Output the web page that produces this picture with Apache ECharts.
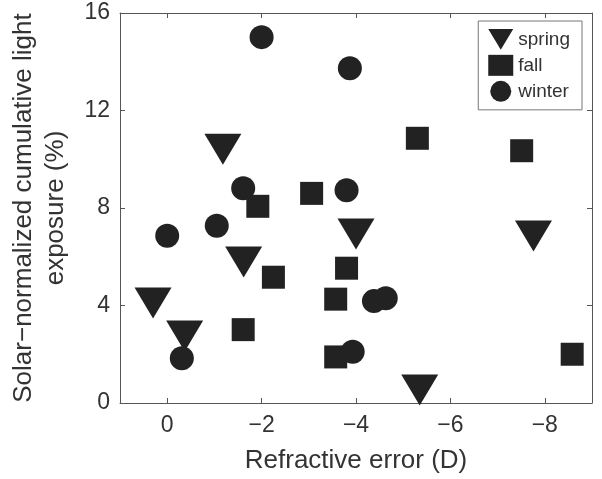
<!DOCTYPE html>
<html>
<head>
<meta charset="UTF-8">
<script src="https://cdn.jsdelivr.net/npm/echarts@6/dist/echarts.min.js"></script>
<style>
  body { margin: 0; background: #fff; }
  #chart { width: 602px; height: 479px; }
</style>
</head>
<body>
<div id="chart"></div>
<script>
  // refractive error (D), light exposure (%)
  const springX = [0.3, -0.37, -1.62, -1.18, -4.0, -7.76, -5.35];
  const springY = [4.1, 2.75, 5.78, 10.41, 6.93, 6.85, 0.53];
  const fallX = [-1.92, -3.06, -5.3, -7.51, -2.25, -1.61, -3.8, -3.57, -3.57, -8.58];
  const fallY = [8.07, 8.6, 10.86, 10.35, 5.16, 3.01, 5.53, 4.26, 1.89, 2.0];
  const winterX = [-2.0, -3.87, -1.61, -3.8, 0, -1.05, -0.31, -4.38, -4.63, -3.93];
  const winterY = [15.01, 13.73, 8.81, 8.73, 6.86, 7.27, 1.84, 4.18, 4.3, 2.1];

  const font = 'Liberation Sans, Arial, sans-serif';
  const ink = '#222';
  const pair = (xs, ys) => xs.map((x, i) => [x, ys[i]]);
  const minus = v => String(v).replace('-', '\u2212');

  const chart = echarts.init(document.getElementById('chart'));

  const axisLine = { show: true, onZero: false, lineStyle: { color: '#555', width: 1 } };
  const tick = { show: true, inside: true, length: 5, lineStyle: { color: '#555' } };

  chart.setOption({
    animation: false,
    textStyle: { fontFamily: font, color: '#333' },
    grid: { left: 116, right: 10, top: 13, bottom: 76 },
    legend: {
      orient: 'vertical',
      right: 20, top: 21,
      itemWidth: 25, itemHeight: 21,
      itemGap: 5,
      padding: [8, 12, 8, 10],
      borderColor: '#777', borderWidth: 1,
      textStyle: { fontSize: 19, color: '#333', fontFamily: font },
      data: [
        { name: 'spring', icon: 'path://M0,0 L12,0 L6,10 Z', itemStyle: { color: ink } },
        { name: 'fall', icon: 'rect' },
        { name: 'winter', icon: 'circle' }
      ]
    },
    xAxis: [{
      type: 'value', min: -9, max: 1, inverse: true,
      name: 'Refractive error (D)', nameLocation: 'middle', nameGap: 45,
      nameTextStyle: { fontSize: 26, color: '#333' },
      axisLine: axisLine, axisTick: tick, splitLine: { show: false },
      axisLabel: {
        fontSize: 23, color: '#333', margin: 11,
        showMinLabel: false, showMaxLabel: false,
        formatter: v => (v % 2 === 0 ? minus(v) : '')
      }
    }, {
      type: 'value', min: -9, max: 1, inverse: true, position: 'top',
      axisLine: axisLine, axisTick: tick, splitLine: { show: false },
      axisLabel: { show: false }
    }],
    yAxis: [{
      type: 'value', min: 0, max: 16, interval: 4,
      name: 'Solar\u2212normalized cumulative light\nexposure (%)',
      nameLocation: 'middle', nameGap: 48, nameRotate: 90,
      nameTextStyle: { fontSize: 26, lineHeight: 32, color: '#333' },
      axisLine: axisLine, axisTick: tick, splitLine: { show: false },
      axisLabel: { fontSize: 23, color: '#333', margin: 10 }
    }, {
      type: 'value', min: 0, max: 16, interval: 4, position: 'right',
      axisLine: axisLine, axisTick: tick, splitLine: { show: false },
      axisLabel: { show: false }
    }],
    series: [{
      name: 'spring', type: 'scatter',
      symbol: 'triangle', symbolRotate: 180, symbolSize: [37, 31],
      itemStyle: { color: ink, opacity: 1 },
      data: pair(springX, springY)
    }, {
      name: 'fall', type: 'scatter',
      symbol: 'rect', symbolSize: 23,
      itemStyle: { color: ink, opacity: 1 },
      data: pair(fallX, fallY)
    }, {
      name: 'winter', type: 'scatter',
      symbol: 'circle', symbolSize: 24,
      itemStyle: { color: ink, opacity: 1 },
      data: pair(winterX, winterY)
    }]
  });
</script>
</body>
</html>
